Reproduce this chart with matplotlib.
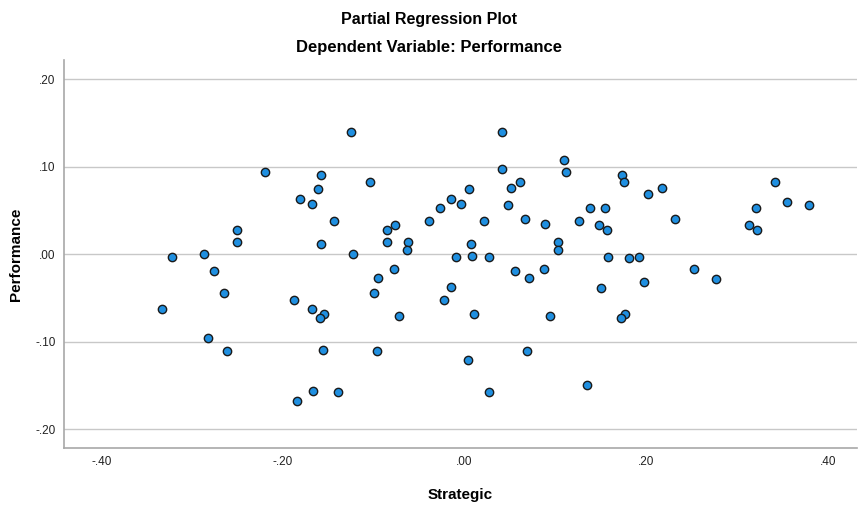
import matplotlib.pyplot as plt
from matplotlib.ticker import FuncFormatter

# Partial-Regression-Werte (Strategic vs. Performance)
strategic = [
    -0.2195, -0.1575, -0.161, -0.181, -0.168, -0.251, -0.251, -0.158, -0.322, -0.287,
    -0.1245, -0.104, -0.1436, -0.1223, -0.0854, -0.0769, -0.0854, -0.0623, -0.063, -0.0396,
    -0.0267, -0.0154, -0.0033, 0.0048, 0.0073, -0.0088, 0.0084, 0.027, 0.022, 0.041,
    0.041, 0.0516, 0.0612, 0.0484, 0.0667, 0.0883, 0.1099, 0.1117, 0.126, 0.1033,
    0.1026, 0.138, 0.1733, 0.1755, 0.2022, 0.2176, 0.2322, 0.1546, 0.1484, 0.1564,
    0.1575, 0.1817, 0.1927, 0.3414, 0.3205, 0.3135, 0.322, 0.3546, 0.3795, -0.2755,
    -0.265, -0.3333, -0.188, -0.168, -0.1546, -0.159, -0.2824, -0.2619, -0.1557, -0.167,
    -0.1839, -0.078, -0.0949, -0.0993, -0.0722, -0.0963, -0.1388, -0.0154, -0.0223, 0.011,
    0.0037, 0.0268, 0.0557, 0.0707, 0.0872, 0.0937, 0.0689, 0.1348, 0.1502, 0.1978,
    0.2531, 0.2766, 0.1769, 0.1722,
]
performance = [
    0.094, 0.090, 0.075, 0.063, 0.0575, 0.028, 0.0137, 0.0118, -0.003, 0.000,
    0.140, 0.082, 0.038, 0.000, 0.028, 0.034, 0.0137, 0.014, 0.005, 0.0384,
    0.053, 0.063, 0.0575, 0.075, 0.0118, -0.0034, -0.002, -0.0034, 0.038, 0.140,
    0.0975, 0.0754, 0.082, 0.0567, 0.0407, 0.0346, 0.1078, 0.094, 0.0384, 0.014,
    0.005, 0.0526, 0.090, 0.082, 0.069, 0.0754, 0.0407, 0.0526, 0.033, 0.0274,
    -0.0034, -0.004, -0.0034, 0.082, 0.0526, 0.033, 0.0274, 0.060, 0.0567, -0.0194,
    -0.0446, -0.063, -0.052, -0.063, -0.0686, -0.073, -0.0957, -0.111, -0.109, -0.156,
    -0.168, -0.0171, -0.0267, -0.0446, -0.070, -0.111, -0.157, -0.0377, -0.052, -0.0686,
    -0.121, -0.157, -0.0194, -0.0267, -0.0171, -0.070, -0.111, -0.149, -0.038, -0.032,
    -0.0171, -0.0279, -0.0686, -0.073,
]

x_ticks = [-0.40, -0.20, 0.00, 0.20, 0.40]
y_ticks = [-0.20, -0.10, 0.00, 0.10, 0.20]


def spss_format(val, pos):
    # SPSS-Stil: ".20" statt "0.20"
    s = f"{val:.2f}"
    if s in ("-0.00", "0.00"):
        return ".00"
    return s.replace("0.", ".", 1)


def main():
    plt.rcParams['font.family'] = ['Liberation Sans', 'DejaVu Sans']

    fig = plt.figure(figsize=(8.58, 5.08), dpi=100)
    ax = fig.add_axes([0.0746, 0.118, 0.924, 0.764])

    ax.scatter(strategic, performance, s=36, color='#1f8fe0',
               edgecolors='#1a1a1a', linewidths=1.0, zorder=3)

    ax.set_xlim(-0.441, 0.432)
    ax.set_ylim(-0.2214, 0.222)
    ax.set_xticks(x_ticks)
    ax.set_yticks(y_ticks)
    ax.xaxis.set_major_formatter(FuncFormatter(spss_format))
    ax.yaxis.set_major_formatter(FuncFormatter(spss_format))
    ax.tick_params(length=0, labelsize=8.5, colors='#222222', pad=6)

    ax.grid(True, axis='y', color='#c8c8c8', linewidth=1.0)
    ax.set_axisbelow(True)
    for side in ('top', 'right'):
        ax.spines[side].set_visible(False)
    for side in ('left', 'bottom'):
        ax.spines[side].set_color('#a8a8a8')
        ax.spines[side].set_linewidth(1.2)

    ax.set_xlabel('Strategic', fontsize=11, fontweight='bold', labelpad=14)
    ax.set_ylabel('Performance', fontsize=11, fontweight='bold', labelpad=9)

    fig.text(0.5, 0.961, 'Partial Regression Plot', ha='center', va='center',
             fontsize=11.5, fontweight='bold')
    fig.text(0.5, 0.906, 'Dependent Variable: Performance', ha='center', va='center',
             fontsize=12, fontweight='bold')

    fig.savefig('out.png', dpi=100)


if __name__ == "__main__":
    main()
